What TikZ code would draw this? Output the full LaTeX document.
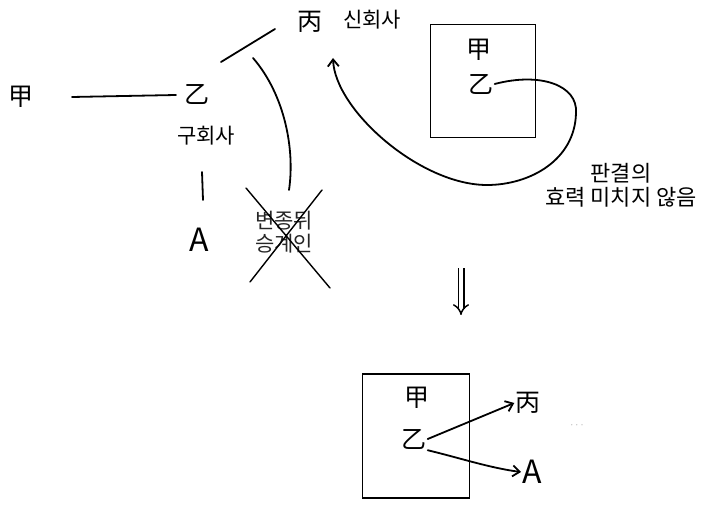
\documentclass[tikz,border=0pt]{standalone}
\usepackage{fontspec}
\setmainfont{Noto Sans CJK KR}
\usetikzlibrary{arrows.meta}
\begin{document}
\begin{tikzpicture}[x=1pt,y=-1pt,
  lbl/.style={inner sep=1pt,font=\fontsize{25}{27}\selectfont},
  lat/.style={inner sep=1pt,font=\fontsize{32}{34}\selectfont},
  ko/.style={inner sep=1pt,font=\fontsize{21}{25}\selectfont,align=center},
  ln/.style={line width=1.8pt,line cap=round},
  arr/.style={ln,-{Straight Barb[length=7pt,width=11pt]}},
  box/.style={draw,line width=1.8pt}]
\useasboundingbox (0,0) rectangle (712,505);
% top left part
\node[lbl] (gap1) at (21,97) {甲};
\node[lbl] (eul1) at (197,94) {乙};
\node[lbl] (byeong1) at (310,22) {丙};
\node[ko] (new) at (372,20) {신회사};
\node[ko] (old) at (206,136) {구회사};
\node[lat] (A1) at (199,240) {A};
\node[ko,text=black!85] (succ) at (284,232) {변종뒤\\[-2pt]승계인};
\coordinate (tickTop) at (202,172);
\coordinate (tickBot) at (203,200);
\coordinate (slashS) at (221,62);
\coordinate (slashE) at (275,29);
\draw[ln] (72,97) coordinate (l1) -- (176,95) coordinate (l2);
\draw[ln] (slashS) -- (slashE);
\draw[ln] (tickTop) -- (tickBot);
\draw[ln] (253,58) .. controls (285,95) and (295,150) .. (289,190) coordinate (arcE);
% cross
\coordinate (x1a) at (246,188);
\coordinate (x1b) at (330,288);
\coordinate (x2a) at (322,190);
\coordinate (x2b) at (250,282);
\draw[line width=1.4pt,line cap=round] (x1a) -- (x1b);
\draw[line width=1.4pt,line cap=round] (x2a) -- (x2b);
% top right box
\node[box,minimum width=105pt,minimum height=113pt] (boxT) at (483,81) {};
\node[lbl] (gap2) at (479,50) {甲};
\node[lbl] (eul2) at (481,84) {乙};
\coordinate (loopA) at (576,113);
\coordinate (loopB) at (487,185);
\draw[arr] (eul2.east) .. controls (540,72) and (578,85) .. (loopA)
  .. controls (575,160) and (530,185) .. (loopB)
  .. controls (420,185) and (335,110) .. (333,58) coordinate (tipT);
\node[ko,font=\fontsize{22}{26}\selectfont] (eff) at (621,185) {판결의\\[-2pt]효력 미치지 않음};
% double arrow
\coordinate (dTop) at (461,268);
\coordinate (dBot) at (461,315);
\draw[line width=1.5pt,double distance=4pt,-{Implies[length=9pt]}] (dTop) -- (dBot);
% bottom box
\node[box,minimum width=107pt,minimum height=124pt] (boxB) at (416,436) {};
\node[lbl] (gap3) at (417,398) {甲};
\node[lbl] (eul3) at (414,439) {乙};
\node[lbl] (byeong3) at (528,403) {丙};
\node[lat] (A3) at (532,472) {A};
\draw[arr] (eul3.east) -- (byeong3.west);
\draw[arr] (eul3.south east) .. controls (460,458) and (490,468) .. (A3.west);
\node[inner sep=0pt,text=black!30,font=\small] (dots) at (577,427) {···};
\end{tikzpicture}
\end{document}
